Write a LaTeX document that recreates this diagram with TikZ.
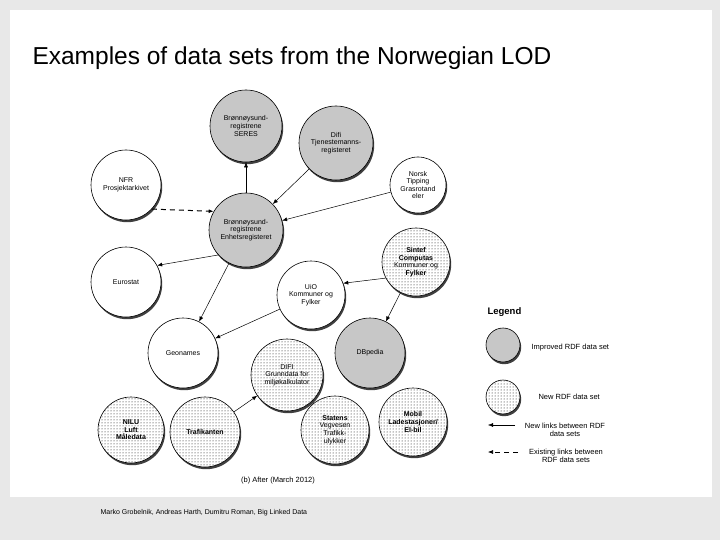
\documentclass[tikz,border=0pt]{standalone}
\usepackage{fontspec}
\setmainfont{Liberation Sans}
\usetikzlibrary{patterns,arrows.meta}
\begin{document}
\begin{tikzpicture}[x=1pt,y=-1pt,
  ds/.style={circle,draw=black,line width=0.6pt,align=center,font=\fontsize{7}{7.6}\selectfont,inner sep=0pt,
    preaction={fill=black!75,transform canvas={xshift=1.2pt,yshift=-2.2pt}}},
  imp/.style={ds,fill=black!22},
  plain/.style={ds,fill=white},
  newd/.style={ds,fill=white,postaction={pattern=dots}},
  arr/.style={-{Latex[length=5pt,width=4pt]},line width=0.5pt},
  darr/.style={-{Latex[length=5pt,width=4pt]},line width=1pt,dash pattern=on 5pt off 4pt}]
\useasboundingbox (0,0) rectangle (720,540);
\fill[black!9] (0,0) rectangle (720,540);
\fill[white] (10,10) rectangle (712,497);
\node[anchor=west,font=\fontsize{24.5}{26}\selectfont] (title) at (29,58) {Examples of data sets from the Norwegian LOD};
\node[anchor=west,font=\fontsize{7}{8}\selectfont] (foot) at (97,513) {Marko Grobelnik, Andreas Harth, Dumitru Roman, Big Linked Data};

\node[imp,minimum size=72] (seres) at (246,126) {Brønnøysund-\\registrene\\SERES};
\node[imp,minimum size=74] (difi) at (336,143) {Difi\\Tjenestemanns-\\registeret};
\node[plain,minimum size=70] (nfr) at (126,185) {NFR\\Prosjektarkivet};
\node[plain,minimum size=56] (norsk) at (418,185) {Norsk\\Tipping\\Grasrotand\\eler};
\node[imp,minimum size=74] (enh) at (246,230) {Brønnøysund-\\registrene\\Enhetsregisteret};
\node[plain,minimum size=70] (euro) at (126,282) {Eurostat};
\node[newd,minimum size=68] (sintef) at (416,262) {\textbf{Sintef}\\\textbf{Computas}\\Kommuner og\\\textbf{Fylker}};
\node[plain,minimum size=68] (uio) at (311,295) {UiO\\Kommuner og\\Fylker};
\node[plain,minimum size=70] (geo) at (183,353) {Geonames};
\node[imp,minimum size=70] (dbp) at (370,353) {DBpedia};
\node[newd,minimum size=72] (difig) at (287,375) {DIFI\\Grunndata for\\miljøkalkulator};
\node[newd,minimum size=66] (nilu) at (131,430) {\textbf{NILU}\\\textbf{Luft}\\\textbf{Måledata}};
\node[newd,minimum size=70] (traf) at (205,432) {\textbf{Trafikanten}};
\node[newd,minimum size=68] (stat) at (335,430) {\textbf{Statens}\\Vegvesen\\Trafikk-\\ulykker};
\node[newd,minimum size=68] (mob) at (413,422) {\textbf{Mobil}\\\textbf{Ladestasjoner/}\\\textbf{El-bil}};
\node[font=\fontsize{7.5}{8}\selectfont] (cap) at (278,481) {(b) After (March 2012)};

\draw[arr] (enh) -- (seres);
\draw[arr] (difi) -- (enh);
\draw[arr] (norsk) -- (enh);
\draw[darr] (nfr.-43) -- (enh.150);
\draw[arr] (enh.222) -- (euro.28);
\draw[arr] (enh) -- (geo);
\draw[arr] (sintef.208) -- (uio.20);
\draw[arr] (uio) -- (geo);
\draw[arr] (sintef) -- (dbp);
\draw[arr] (traf) -- (difig);

\node[anchor=west,font=\bfseries\fontsize{9.5}{11}\selectfont] (leg) at (484,312) {Legend};
\node[imp,minimum size=34] (l1) at (503,345) {};
\node[newd,minimum size=34] (l2) at (503,397) {};
\node[anchor=west,font=\fontsize{7.5}{8}\selectfont] (t1) at (528,348) {Improved RDF data set};
\node[anchor=west,font=\fontsize{7.5}{8}\selectfont] (t2) at (535,397) {New RDF data set};
\coordinate (a1s) at (515,425); \coordinate (a1e) at (488,425);
\coordinate (a2s) at (518,452); \coordinate (a2e) at (488,452);
\draw[arr] (a1s) -- (a1e);
\draw[darr,line width=0.6pt] (a2s) -- (a2e);
\node[align=center,font=\fontsize{7.5}{8.5}\selectfont] (t3) at (565,430) {New links between RDF\\data sets};
\node[align=center,font=\fontsize{7.5}{8.5}\selectfont] (t4) at (566,456) {Existing links between\\RDF data sets};
\end{tikzpicture}
\end{document}
